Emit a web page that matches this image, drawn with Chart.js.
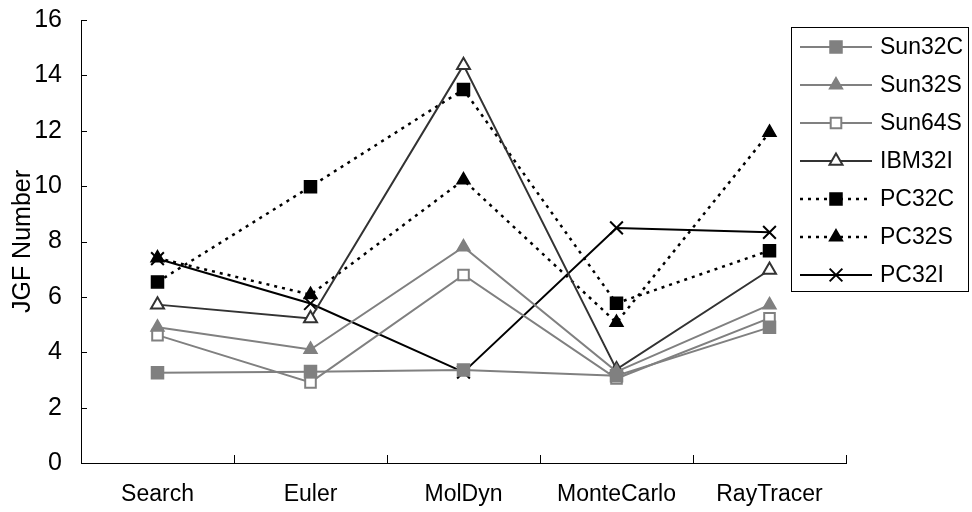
<!DOCTYPE html>
<html>
<head>
<meta charset="utf-8">
<script src="https://cdn.jsdelivr.net/npm/chart.js@4/dist/chart.umd.min.js"></script>
<style>
  html, body { margin: 0; padding: 0; background: #fff; }
  #wrap { width: 972px; height: 512px; position: relative; }
</style>
</head>
<body>
<div id="wrap"><canvas id="c" width="972" height="512"></canvas></div>
<script>
// Benchmarks on the category axis
const categories = ['Search', 'Euler', 'MolDyn', 'MonteCarlo', 'RayTracer'];

// JGF numbers per platform
const sun32C = [3.26, 3.30, 3.36, 3.15, 4.90];
const sun32S = [4.90, 4.10, 7.80, 3.30, 5.71];
const sun64S = [4.62, 2.91, 6.79, 3.05, 5.23];
const ibm32I = [5.72, 5.22, 14.37, 3.38, 6.97];
const pc32C  = [6.54, 9.98, 13.49, 5.77, 7.67];
const pc32S  = [7.40, 6.08, 10.22, 5.07, 11.94];
const pc32I  = [7.38, 5.76, 3.28, 8.49, 8.33];

// Value axis ticks
const yTicks = [0, 2, 4, 6, 8, 10, 12, 14, 16];

const FONT = 'Liberation Sans, Arial, Helvetica, sans-serif';
const GRAY = '#808080';
const DARK = '#333333';

function series(label, data, opts) {
  return Object.assign({
    label: label,
    data: data,
    borderWidth: 2,
    fill: false,
    tension: 0,
    pointBorderWidth: 1.5
  }, opts);
}

const datasets = [
  series('Sun32C', sun32C, { borderColor: GRAY, pointStyle: 'rect', pointRadius: 8.5,
    pointBackgroundColor: GRAY, pointBorderColor: GRAY }),
  series('Sun32S', sun32S, { borderColor: GRAY, pointStyle: 'triangle', pointRadius: 7.5,
    pointBackgroundColor: GRAY, pointBorderColor: GRAY }),
  series('Sun64S', sun64S, { borderColor: GRAY, pointStyle: 'rect', pointRadius: 7.5,
    pointBackgroundColor: '#fff', pointBorderColor: GRAY, pointBorderWidth: 2 }),
  series('IBM32I', ibm32I, { borderColor: DARK, pointStyle: 'triangle', pointRadius: 7.5,
    pointBackgroundColor: '#fff', pointBorderColor: DARK, pointBorderWidth: 2 }),
  series('PC32C', pc32C, { borderColor: '#000', borderDash: [3, 5], borderWidth: 2.5, pointStyle: 'rect', pointRadius: 8.5,
    pointBackgroundColor: '#000', pointBorderColor: '#000' }),
  series('PC32S', pc32S, { borderColor: '#000', borderDash: [3, 5], borderWidth: 2.5, pointStyle: 'triangle', pointRadius: 7.5,
    pointBackgroundColor: '#000', pointBorderColor: '#000' }),
  series('PC32I', pc32I, { borderColor: '#000', pointStyle: 'crossRot', pointRadius: 9,
    pointBackgroundColor: '#000', pointBorderColor: '#000', pointBorderWidth: 2 })
];

function marker(ctx, ds, x, y) {
  const opts = {
    pointStyle: ds.pointStyle,
    radius: ds.pointRadius,
    rotation: 0,
    borderWidth: ds.pointBorderWidth
  };
  ctx.save();
  ctx.setLineDash([]);
  ctx.fillStyle = ds.pointBackgroundColor;
  ctx.strokeStyle = ds.pointBorderColor;
  ctx.lineWidth = ds.pointBorderWidth;
  ctx.beginPath();
  Chart.helpers.drawPoint(ctx, opts, x, y);
  ctx.restore();
}

// Short tick marks pointing into the plot area
const innerTicks = {
  id: 'innerTicks',
  afterDatasetsDraw(chart) {
    const ctx = chart.ctx;
    const y = chart.scales.y;
    const a = chart.chartArea;
    ctx.save();
    ctx.strokeStyle = '#000';
    ctx.lineWidth = 1;
    ctx.beginPath();
    yTicks.forEach(v => {
      const py = Math.round(y.getPixelForValue(v)) + 0.5;
      ctx.moveTo(a.left, py); ctx.lineTo(a.left + 6, py);
    });
    const n = categories.length;
    for (let i = 1; i <= n; i++) {
      const px = Math.round(a.left + (a.right - a.left) * i / n) + 0.5;
      ctx.moveTo(px, a.bottom); ctx.lineTo(px, a.bottom - 8);
    }
    ctx.stroke();
    ctx.restore();
  }
};

// Boxed legend overlapping the right side of the plot
const boxLegend = {
  id: 'boxLegend',
  afterDraw(chart) {
    const ctx = chart.ctx;
    const L = 791, T = 27, R = 969, B = 292;
    ctx.save();
    ctx.fillStyle = '#fff';
    ctx.fillRect(L, T, R - L, B - T);
    ctx.strokeStyle = '#000';
    ctx.lineWidth = 1;
    ctx.strokeRect(L + 0.5, T + 0.5, R - L - 1, B - T - 1);
    const step = 38.0;
    chart.data.datasets.forEach((ds, i) => {
      const cy = T + 20 + step * i;
      ctx.save();
      ctx.strokeStyle = ds.borderColor;
      ctx.lineWidth = ds.borderWidth;
      ctx.setLineDash(ds.borderDash || []);
      ctx.beginPath();
      ctx.moveTo(800, cy); ctx.lineTo(872, cy);
      ctx.stroke();
      ctx.restore();
      marker(ctx, ds, 836, cy);
      ctx.fillStyle = '#000';
      ctx.font = '23px ' + FONT;
      ctx.textBaseline = 'middle';
      ctx.textAlign = 'left';
      ctx.fillText(ds.label, 880, cy + 1);
    });
    ctx.restore();
  }
};

new Chart(document.getElementById('c'), {
  type: 'line',
  data: { labels: categories, datasets: datasets },
  plugins: [innerTicks, boxLegend],
  options: {
    responsive: false,
    animation: false,
    devicePixelRatio: 1,
    layout: { padding: { left: 0, right: 126, top: 20, bottom: 0 } },
    plugins: {
      legend: { display: false },
      tooltip: { enabled: false },
      title: { display: false }
    },
    scales: {
      x: {
        type: 'category',
        offset: true,
        grid: { display: true, drawOnChartArea: false, drawTicks: false },
        border: { display: true, color: '#000', width: 1 },
        ticks: { color: '#000', font: { family: FONT, size: 23 }, padding: 18, maxRotation: 0 },
        afterFit(s) { s.height = 49; s.paddingLeft = 0; s.paddingRight = 0; }
      },
      y: {
        min: 0,
        max: 16,
        afterBuildTicks(s) { s.ticks = yTicks.map(v => ({ value: v })); },
        grid: { display: true, drawOnChartArea: false, drawTicks: false },
        border: { display: true, color: '#000', width: 1 },
        ticks: { color: '#000', font: { family: FONT, size: 25 }, padding: 19 },
        title: {
          display: true,
          text: 'JGF Number',
          color: '#000',
          font: { family: FONT, size: 25 },
          padding: { top: 8, bottom: 0 }
        },
        afterFit(s) { s.width = 81; s.paddingTop = 0; s.paddingBottom = 0; }
      }
    }
  }
});
</script>
</body>
</html>
